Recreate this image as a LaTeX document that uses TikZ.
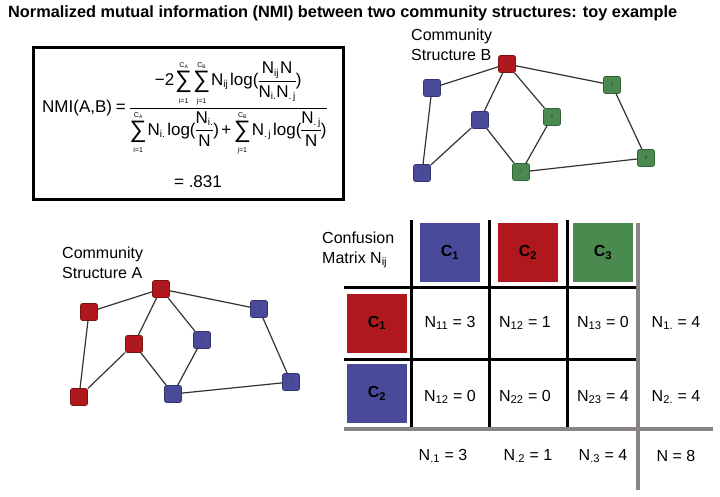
\documentclass[tikz,border=0pt]{standalone}
\usepackage{amsmath}
\usepackage{fontspec}
\setmainfont{Liberation Sans}
\definecolor{cred}{HTML}{B0181E}
\definecolor{cblue}{HTML}{4A4A9A}
\definecolor{cgreen}{HTML}{4A8A4E}
\definecolor{cgray}{HTML}{8A8585}
\newcommand{\rmN}{\text{N}}
\newcommand{\lpar}{\mathopen{\text{(}}}
\newcommand{\rpar}{\mathclose{\text{)}}}
\newcommand{\eqs}{\mathrel{\text{=}}}
\newcommand{\pls}{\mathbin{\text{+}}}
\newcommand{\lgs}{\mathop{\text{log}}\nolimits}
\newcommand{\tinyt}[1]{\text{\fontsize{7}{7}\selectfont #1}}
\newcommand{\subt}[1]{\text{\fontsize{10}{10}\selectfont #1}}
\newcommand{\Sm}[2]{\mathop{\text{\raisebox{-2.5pt}{\scalebox{1.4}{∑}}}}\limits_{\tinyt{#1}}^{\tinyt{#2}}}
\newcommand{\CA}{C\raisebox{-1pt}{\fontsize{5}{5}\selectfont A}}
\newcommand{\CB}{C\raisebox{-1pt}{\fontsize{5}{5}\selectfont B}}
\tikzset{
  nd/.style={rectangle, rounded corners=2pt, minimum size=17pt, inner sep=0pt, line width=0.6pt, font=\fontsize{5}{5}\selectfont, text=black!75},
  rnd/.style={nd, fill=cred, draw=cred!70!black},
  bnd/.style={nd, fill=cblue, draw=cblue!70!black},
  gnd/.style={nd, fill=cgreen, draw=cgreen!70!black},
  edge/.style={line width=1.2pt, draw=black!80},
  lbl/.style={font=\fontsize{16}{19.5}\selectfont, align=left, inner sep=0pt},
  cell/.style={font=\fontsize{16}{19}\selectfont, inner sep=0pt},
  hbox/.style={minimum width=60pt, minimum height=59pt, inner sep=0pt, font=\bfseries\fontsize{16}{19}\selectfont},
  blk/.style={line width=3pt, black},
  gry/.style={line width=4pt, cgray},
}
\begin{document}
\begin{tikzpicture}[x=1pt,y=-1pt]
\useasboundingbox (0,0) rectangle (720,497);
% title
\node[anchor=west, inner sep=0pt, font=\bfseries\fontsize{16.3}{18}\selectfont] (title) at (8,13)
  {Normalized mutual information (NMI) between two community structures: toy example};
% formula box
\node[draw, line width=3pt, minimum width=310pt, minimum height=152pt, inner sep=0pt] (fbox) at (188,123.5) {};
\node[anchor=base west, inner sep=0pt, font=\fontsize{17}{20}\selectfont] (nmi) at (42,113)
 {\thinmuskip=1mu\medmuskip=2.5mu\thickmuskip=4mu\nulldelimiterspace=0pt$\text{NMI(A,B)} \eqs \dfrac{\text{−2}\Sm{i=1}{\CA}\Sm{j=1}{\CB}\rmN_{\subt{ij}}\,\lgs\lpar\dfrac{\rmN_{\subt{ij}}\,\rmN}{\rmN_{\subt{i.}}\rmN_{\subt{.\,j}}}\rpar}{\Sm{i=1}{\CA}\rmN_{\subt{i.}}\,\lgs\lpar\dfrac{\rmN_{\subt{i.}}}{\rmN}\rpar\pls\Sm{j=1}{\CB}\rmN_{\subt{.\,j}}\,\lgs\lpar\dfrac{\rmN_{\subt{.\,j}}}{\rmN}\rpar}$};
\node[inner sep=0pt, font=\fontsize{17}{20}\selectfont] (val) at (198,182) {= .831};
% Community structure B
\node[lbl, anchor=north west] (labB) at (411,29) {Community\\Structure B};
\node[rnd] (b8) at (507,64) {8};
\node[bnd] (b1) at (432,88) {1};
\node[gnd] (b4) at (612,85) {4};
\node[bnd] (b3) at (480,120) {3};
\node[gnd] (b5) at (552,117) {5};
\node[bnd] (b2) at (422,173) {2};
\node[gnd] (b7) at (521,172) {7};
\node[gnd] (b6) at (646,158) {6};
\draw[edge] (b8) -- (b1); \draw[edge] (b8) -- (b3); \draw[edge] (b8) -- (b5); \draw[edge] (b8) -- (b4);
\draw[edge] (b1) -- (b2); \draw[edge] (b3) -- (b2); \draw[edge] (b3) -- (b7); \draw[edge] (b5) -- (b7);
\draw[edge] (b4) -- (b6); \draw[edge] (b7) -- (b6);
% Community structure A
\node[lbl, anchor=north west] (labA) at (62,247) {Community\\Structure A};
\node[rnd] (a8) at (161,289) {8};
\node[rnd] (a1) at (89,312) {1};
\node[bnd] (a4) at (259,309) {4};
\node[rnd] (a3) at (134,344) {3};
\node[bnd] (a5) at (202,340) {5};
\node[rnd] (a2) at (79,397) {2};
\node[bnd] (a7) at (173,394) {7};
\node[bnd] (a6) at (291,382) {6};
\draw[edge] (a8) -- (a1); \draw[edge] (a8) -- (a3); \draw[edge] (a8) -- (a5); \draw[edge] (a8) -- (a4);
\draw[edge] (a1) -- (a2); \draw[edge] (a3) -- (a2); \draw[edge] (a3) -- (a7); \draw[edge] (a5) -- (a7);
\draw[edge] (a4) -- (a6); \draw[edge] (a7) -- (a6);
% confusion matrix
\node[lbl, anchor=north west] (labM) at (322,232) {Confusion\\Matrix N\textsubscript{ij}};
\node[hbox, fill=cblue] (h1) at (450,252.5) {C\textsubscript{1}};
\node[hbox, fill=cred] (h2) at (528,252.5) {C\textsubscript{2}};
\node[hbox, fill=cgreen] (h3) at (603,252.5) {C\textsubscript{3}};
\node[hbox, fill=cred] (r1) at (377,323) {C\textsubscript{1}};
\node[hbox, fill=cblue] (r2) at (377,393.5) {C\textsubscript{2}};
\draw[blk] (411,220) -- (411,429);
\draw[blk] (489,220) -- (489,429);
\draw[blk] (567,220) -- (567,429);
\draw[blk] (344,287) -- (638,287);
\draw[blk] (344,359) -- (638,359);
\draw[gry] (638,223) -- (638,490);
\draw[gry] (344,429) -- (713,429);
\node[cell] (n11) at (450,323) {N\textsubscript{11} = 3};
\node[cell] (n12) at (525,323) {N\textsubscript{12} = 1};
\node[cell] (n13) at (603,323) {N\textsubscript{13} = 0};
\node[cell] (n1d) at (676,323) {N\textsubscript{1.} = 4};
\node[cell] (n21) at (450,397) {N\textsubscript{12} = 0};
\node[cell] (n22) at (525,397) {N\textsubscript{22} = 0};
\node[cell] (n23) at (603,397) {N\textsubscript{23} = 4};
\node[cell] (n2d) at (676,397) {N\textsubscript{2.} = 4};
\node[cell] (nd1) at (443,456) {N\textsubscript{.1} = 3};
\node[cell] (nd2) at (528,456) {N\textsubscript{.2} = 1};
\node[cell] (nd3) at (603,456) {N\textsubscript{.3} = 4};
\node[cell] (ntot) at (676,456) {N = 8};
\end{tikzpicture}
\end{document}
